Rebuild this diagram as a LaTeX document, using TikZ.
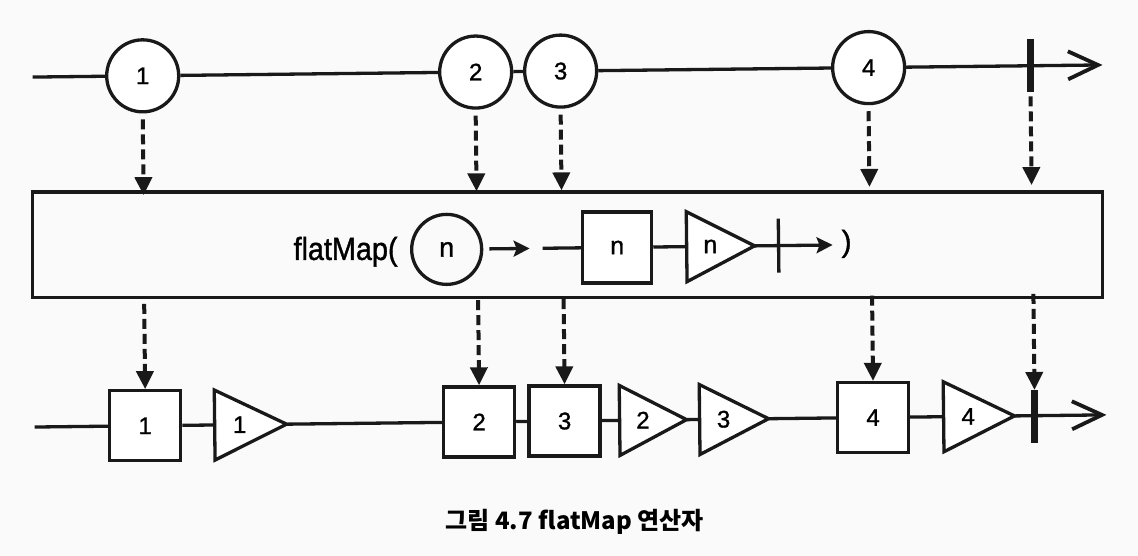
\documentclass[tikz,border=0pt]{standalone}
\usepackage{fontspec}
\setmainfont{Liberation Sans}[FakeBold=1.2]
\newfontfamily\krfont{Noto Sans CJK KR}
\newfontfamily\narrowfont{Liberation Sans}[FakeStretch=0.9,FakeBold=1.2]
\usetikzlibrary{arrows.meta}
\newcommand\mktri[5]{%
  \coordinate (#1w) at (#2,#4);
  \coordinate (#1e) at (#3,#4);
  \draw[ln, fill=white, line join=miter] (#2,#4-35) -- (#1e) -- (#2,#4+35) -- cycle;
  \node[trilabel] (#1) at ({#2+(#3-#2)/3+1},#4) {#5};
}
\begin{document}
\begin{tikzpicture}[x=1pt,y=-1pt,
  ln/.style={line width=3.3pt, draw=black!90},
  digit/.style={font=\fontsize{24}{27}\selectfont},
  nfont/.style={font=\fontsize{25}{28}\selectfont},
  circnode/.style={circle, ln, fill=white, minimum size=72pt, inner sep=0pt, digit},
  sqnode/.style={rectangle, ln, fill=white, minimum width=71pt, minimum height=70pt, inner sep=0pt, digit},
  barnode/.style={rectangle, fill=black!90, minimum width=7.5pt, minimum height=53pt, inner sep=0pt},
  dasharr/.style={line width=4pt, draw=black!90, dash pattern=on 10pt off 5pt, -{Triangle[length=18pt,width=17pt]}},
  bigarr/.style={ln, -{Straight Barb[length=30pt,width=28pt,line width=3.8pt]}},
  inarr/.style={ln, -{Stealth[length=16pt,width=16pt,inset=3pt]}},
  trilabel/.style={inner sep=0pt, digit},
]
\fill[black!2] (0,0) rectangle (1138,556);
\useasboundingbox (0,0) rectangle (1138,556);
\begin{scope}[rotate around={0.65:(569,278)}]
% ---- top stream
\node[circnode] (c1) at (145,71) {1};
\node[circnode] (c2) at (478,71) {2};
\node[circnode] (c3) at (563,71) {3};
\node[circnode] (c4) at (871,71) {4};
\coordinate (topS) at (35,71);
\coordinate (topE) at (1105,71);
\draw[ln] (topS) -- (c1);
\draw[ln] (c1) -- (c2);
\draw[ln] (c2) -- (c3);
\draw[ln] (c3) -- (c4);
\draw[bigarr] (c4) -- (topE);
\node[barnode] (topbar) at (1033,71) {};
% ---- operator box
\node[rectangle, ln, minimum width=1070pt, minimum height=105.5pt, inner sep=0pt] (box) at (568,244.75) {};
\foreach \n in {c1,c2,c3,c4}
  \draw[dasharr, shorten <=6pt] (\n.south) -- (\n.south |- box.north);
\draw[dasharr, shorten <=4pt] (topbar.south) -- (topbar.south |- box.north);
% ---- inside the box
\node[font=\narrowfont\fontsize{32}{36}\selectfont, inner sep=0pt, anchor=base east] (fm) at (398,258) {flatMap(};
\node[circle, ln, minimum size=70pt, inner sep=0pt, font=\fontsize{27}{30}\selectfont] (cn) at (447,248) {n};
\coordinate (cnA) at (530,248);
\draw[inarr, shorten <=6pt] (cn) -- (cnA);
\coordinate (stub) at (543,248);
\node[sqnode, minimum width=69pt, minimum height=71pt, nfont] (sn) at (617.5,248) {n};
\draw[ln] (stub) -- (sn);
\mktri{tn}{687}{755}{248}{\fontsize{25}{28}\selectfont n}
\draw[ln] (sn) -- (tnw);
\coordinate (inE) at (833,248);
\draw[inarr] (tne) -- (inE);
\coordinate (ibT) at (779,221);
\coordinate (ibB) at (779,275);
\draw[ln] (ibT) -- (ibB);
\node[font=\fontsize{30}{34}\selectfont, inner sep=0pt] (rp) at (847,247) {)};
% ---- bottom stream
\node[sqnode] (s1) at (143.5,421) {1};
\node[sqnode] (s2) at (477.5,421) {2};
\node[sqnode] (s3) at (563,421) {3};
\node[sqnode] (s4) at (871.5,421) {4};
\mktri{t1}{213}{285}{421}{1}
\mktri{t2}{618}{685}{421}{2}
\mktri{t3}{698}{767}{421}{3}
\mktri{t4}{942}{1013}{421}{4}
\coordinate (botS) at (33,421);
\coordinate (botE) at (1105,421);
\draw[ln] (botS) -- (s1);
\draw[ln] (s1) -- (t1w);
\draw[ln] (t1e) -- (s2);
\draw[ln] (s2) -- (s3);
\draw[ln] (s3) -- (t2w);
\draw[ln] (t2e) -- (t3w);
\draw[ln] (t3e) -- (s4);
\draw[ln] (s4) -- (t4w);
\draw[bigarr] (t4e) -- (botE);
\node[barnode] (botbar) at (1033,422) {};
\foreach \n in {s1,s2,s3,s4}
  \draw[dasharr] (\n.north |- box.south) -- (\n.north);
\draw[dasharr] (botbar.north |- box.south) -- (botbar.north);
% ---- caption
\node[font=\krfont\bfseries\fontsize{24}{28}\selectfont, inner sep=0pt] (cap) at (572,522) {그림 4.7 flatMap 연산자};
\end{scope}
\end{tikzpicture}
\end{document}
